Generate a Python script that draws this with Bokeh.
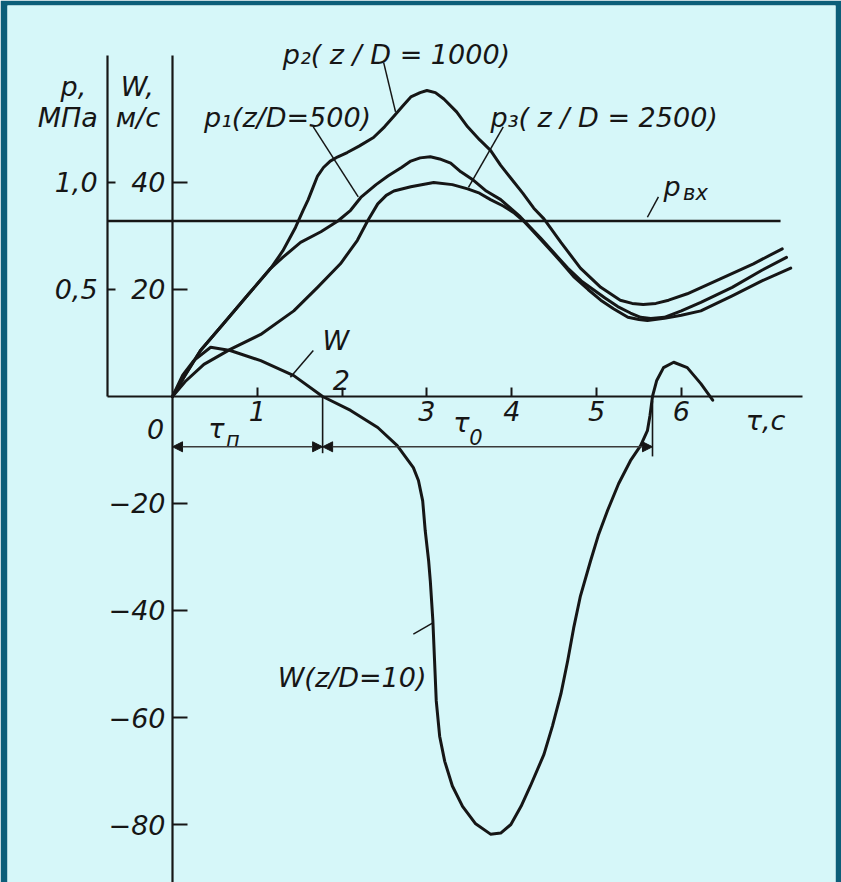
from bokeh.plotting import figure
from bokeh.models import Range1d, LinearAxis, FixedTicker, Arrow, NormalHead
from bokeh.core.properties import value
from bokeh.embed import file_html
from bokeh.resources import INLINE

# ---- data -------------------------------------------------------------
tau_ticks = [1, 2, 3, 4, 5, 6]                 # τ, s
w_ticks = [-80, -60, -40, -20, 20, 40]         # W, m/s
p_ticks = [0.5, 1.0]                           # p, MPa
p_tick_labels = {0.5: "0,5", 1.0: "1,0"}
W_PER_MPA = 40.0                               # 1.0 MPa sits level with 40 m/s

# pressure at z/D = 500, MPa
tau_p1 = [0, 0.15, 0.33, 0.6, 0.9, 1.16, 1.3, 1.51, 1.75, 1.95, 2.1, 2.22, 2.4, 2.54, 2.7,
          2.81, 2.92, 3.04, 3.15, 3.28, 3.4, 3.55, 3.7, 3.87, 4.1, 4.34, 4.5, 4.66, 4.82,
          4.96, 5.1, 5.25, 5.4, 5.52, 5.64, 5.8, 6.0, 6.23, 6.6, 6.95, 7.24]
p1 = [0, 0.10, 0.215, 0.34, 0.48, 0.60, 0.65, 0.72, 0.77, 0.82, 0.87, 0.93, 0.99, 1.03, 1.07,
      1.10, 1.115, 1.12, 1.11, 1.09, 1.05, 1.01, 0.96, 0.92, 0.84, 0.74, 0.67, 0.60, 0.54,
      0.50, 0.46, 0.42, 0.39, 0.37, 0.365, 0.37, 0.40, 0.44, 0.51, 0.59, 0.65]

# pressure at z/D = 1000, MPa
tau_p2 = [0, 0.15, 0.33, 0.6, 0.9, 1.16, 1.3, 1.45, 1.54, 1.6, 1.65, 1.71, 1.78, 1.86, 1.95,
          2.06, 2.2, 2.37, 2.5, 2.61, 2.72, 2.81, 2.92, 3.0, 3.1, 3.2, 3.35, 3.48, 3.62, 3.75,
          3.87, 3.99, 4.13, 4.26, 4.38, 4.58, 4.81, 5.05, 5.28, 5.42, 5.55, 5.7, 5.85, 6.07,
          6.46, 6.85, 7.19]
p2 = [0, 0.10, 0.215, 0.34, 0.48, 0.60, 0.68, 0.79, 0.87, 0.92, 0.97, 1.03, 1.07, 1.10, 1.12,
      1.14, 1.17, 1.21, 1.26, 1.31, 1.36, 1.40, 1.42, 1.43, 1.42, 1.39, 1.33, 1.26, 1.20, 1.15,
      1.08, 1.02, 0.95, 0.88, 0.83, 0.72, 0.60, 0.51, 0.45, 0.435, 0.43, 0.435, 0.45, 0.48,
      0.55, 0.62, 0.69]

# pressure at z/D = 2500, MPa
tau_p3 = [0, 0.15, 0.37, 0.68, 1.04, 1.43, 1.71, 1.98, 2.18, 2.3, 2.42, 2.52, 2.61, 2.81,
          3.08, 3.3, 3.48, 3.62, 3.75, 3.9, 4.02, 4.14, 4.28, 4.42, 4.58, 4.73, 4.9, 5.05,
          5.2, 5.37, 5.5, 5.6, 5.8, 6.0, 6.23, 6.6, 6.95, 7.29]
p3 = [0, 0.07, 0.15, 0.22, 0.29, 0.40, 0.51, 0.62, 0.73, 0.82, 0.90, 0.94, 0.96, 0.98,
      1.00, 0.99, 0.97, 0.95, 0.92, 0.89, 0.86, 0.82, 0.76, 0.70, 0.63, 0.56, 0.50, 0.45,
      0.41, 0.37, 0.36, 0.355, 0.365, 0.38, 0.40, 0.47, 0.54, 0.60]

# inlet pressure, MPa
p_inlet = 0.82
tau_inlet = [-0.766, 7.17]

# flow velocity at z/D = 10, m/s
tau_w = [0, 0.12, 0.25, 0.45, 0.68, 1.04, 1.43, 1.77, 2.10, 2.42, 2.65, 2.84, 2.90, 2.95,
         2.98, 3.02, 3.04, 3.07, 3.09, 3.11, 3.15, 3.21, 3.30, 3.42, 3.57, 3.75, 3.87, 3.99,
         4.11, 4.22, 4.38, 4.48, 4.58, 4.66, 4.73, 4.81, 4.93, 5.02, 5.13, 5.26, 5.40, 5.52,
         5.60, 5.63, 5.66, 5.71, 5.79, 5.91, 6.07, 6.23, 6.37]
w10 = [0, 4.0, 6.7, 9.2, 8.6, 6.7, 3.9, 0, -2.6, -5.8, -9.2, -13.3, -15.7, -19.5,
       -25.1, -30.7, -34.5, -41.9, -49.4, -56.9, -63.5, -68.2, -72.8, -76.6, -79.8, -81.8,
       -81.6, -80.0, -76.6, -72.8, -66.9, -61.6, -55.6, -49.4, -43.3, -37.3, -30.7, -26.0,
       -21.3, -16.3, -12.0, -9.2, -6.4, -3.6, 0, 3.0, 5.4, 6.4, 5.4, 2.4, -0.7]

# time intervals: τп ends where W first changes sign, τ0 ends at the next sign change
tau_n_end = 1.77
tau_0_end = 5.66

# ---- styling -----------------------------------------------------------
FONT = "DejaVu Sans"
INK = "#161616"
BG = "#d6f7f9"
EDGE = "#0c5e79"
FS = "27px"

w_lo, w_hi = -90.84, 73.08

p = figure(width=841, height=882,
           x_range=Range1d(-1.946, 7.818), y_range=Range1d(w_lo, w_hi),
           x_axis_location=None, y_axis_location=None,
           toolbar_location=None, output_backend="svg",
           min_border_left=7, min_border_right=6, min_border_top=5, min_border_bottom=0,
           background_fill_color=BG, border_fill_color=EDGE, outline_line_color=None)
p.grid.visible = False
p.extra_y_ranges = {"p": Range1d(w_lo / W_PER_MPA, w_hi / W_PER_MPA)}


def style_axis(ax, tick_in, standoff):
    ax.axis_line_color = INK
    ax.axis_line_width = 2.2
    ax.major_tick_line_color = INK
    ax.major_tick_line_width = 2
    ax.major_tick_in = tick_in
    ax.major_tick_out = 0
    ax.minor_tick_in = 0
    ax.minor_tick_out = 0
    ax.major_label_standoff = standoff
    ax.major_label_text_font = FONT
    ax.major_label_text_font_size = FS
    ax.major_label_text_font_style = "italic"
    ax.major_label_text_color = INK


# velocity axis through τ = 0
w_axis = LinearAxis(fixed_location=0, ticker=FixedTicker(ticks=w_ticks), bounds=(-91, 63.7))
style_axis(w_axis, 15, 7)
p.add_layout(w_axis, "left")

# pressure axis, to the left of the velocity axis
p_axis = LinearAxis(y_range_name="p", fixed_location=-0.766, ticker=FixedTicker(ticks=p_ticks),
                    bounds=(0, 63.7 / W_PER_MPA), major_label_overrides=p_tick_labels)
style_axis(p_axis, 8, 10)
p.add_layout(p_axis, "left")

# time axis through W = 0; the "2" is written above the line
t_axis = LinearAxis(fixed_location=0, ticker=FixedTicker(ticks=tau_ticks), bounds=(-0.766, 7.43),
                    major_label_overrides={2: ""})
style_axis(t_axis, 9, 5)
p.add_layout(t_axis, "below")

# ---- curves ------------------------------------------------------------
def to_w(values):
    return [v * W_PER_MPA for v in values]


curve = dict(line_color=INK, line_width=3, line_join="round", line_cap="round")
p.line(tau_p1, to_w(p1), **curve)
p.line(tau_p2, to_w(p2), **curve)
p.line(tau_p3, to_w(p3), **curve)
p.line(tau_w, w10, **curve)
p.line(tau_inlet, to_w([p_inlet, p_inlet]), line_color=INK, line_width=2.5)

# ---- leaders -----------------------------------------------------------
p.segment(x0=[2.49, 1.66, 3.90, 5.73, 1.66, 3.07],
          y0=[62.4, 50.4, 50.4, 37.3, 8.6, -42.3],
          x1=[2.63, 2.19, 3.49, 5.60, 1.39, 2.84],
          y1=[53.2, 37.3, 39.1, 33.5, 3.6, -44.4],
          line_color=INK, line_width=1.5)

# ---- interval dimensions ----------------------------------------------
dim_w = -9.4
p.segment(x0=[tau_n_end, tau_0_end], y0=[0, -0.8], x1=[tau_n_end, tau_0_end], y1=[-10.6, -11.2],
          line_color=INK, line_width=1.6)
for a, b in ((0, tau_n_end), (tau_n_end, tau_0_end)):
    p.add_layout(Arrow(start=NormalHead(size=10, fill_color=INK, line_color=INK),
                       end=NormalHead(size=10, fill_color=INK, line_color=INK),
                       x_start=a, y_start=dim_w, x_end=b, y_end=dim_w,
                       line_color="#3a3a3a", line_width=1.4))

# ---- texts ---------------------------------------------------------------
def note(x, y, s, size=FS, align="left"):
    p.text(x=[x], y=[y], text=[s], text_font=value(FONT), text_font_style="italic",
           text_font_size=size, text_color=INK, text_align=align,
           text_baseline="alphabetic")


note(-1.32, 57.9, "p,")
note(-1.59, 52.2, "МПа")
note(-0.61, 57.9, "W,")
note(-0.67, 52.2, "м/с")
note(1.30, 63.9, "p₂( z / D = 1000)")
note(0.37, 52.1, "p₁(z/D=500)")
note(3.75, 52.1, "p₃( z / D = 2500)")
note(5.79, 39.3, "p")
note(6.02, 38.0, "вх", size="21px")
note(1.77, 10.5, "W")
note(1.24, -52.6, "W(z/D=10)")
note(0.42, -6.0, "τ")
note(0.63, -8.2, "п", size="21px")
note(3.31, -4.9, "τ")
note(3.50, -7.6, "0", size="21px")
note(6.76, -4.5, "τ,с")
note(-0.20, -6.0, "0", align="center")
note(1.99, 3.0, "2", align="center")

open("out.html", "w").write(file_html(p, INLINE))
